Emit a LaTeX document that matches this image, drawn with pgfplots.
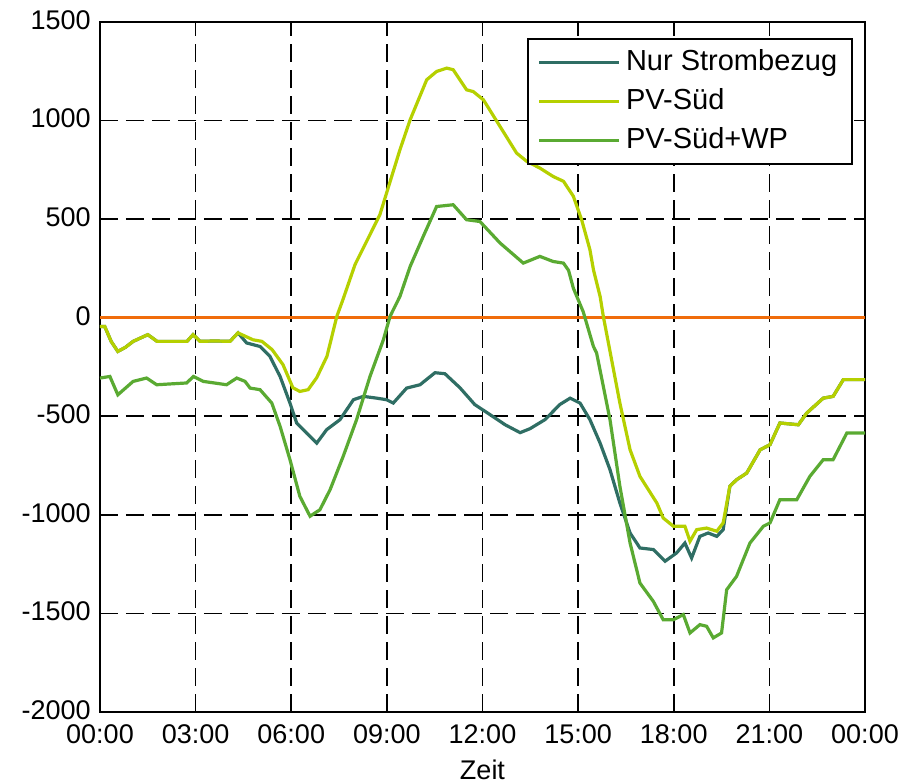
\documentclass[border=0pt]{standalone}
\usepackage{pgfplots}
\pgfplotsset{compat=1.18}
\usepackage{fontspec}
\setmainfont{Liberation Sans}
\definecolor{cteal}{RGB}{47,110,100}
\definecolor{cyell}{RGB}{181,208,0}
\definecolor{cgreen}{RGB}{90,170,50}
\definecolor{corange}{RGB}{240,108,10}
\begin{document}
\fontsize{13.5bp}{16bp}\selectfont
\begin{tikzpicture}
\useasboundingbox (-50bp,-35.5bp) rectangle (406bp,356bp);
\begin{axis}[
  scale only axis, width=382.5bp, height=345bp,
  xmin=0, xmax=24, ymin=-2000, ymax=1500,
  xtick={0,3,...,24},
  xticklabels={00:00,03:00,06:00,09:00,12:00,15:00,18:00,21:00,00:00},
  xticklabel style={yshift=-1.5bp},
  yticklabel style={yshift=1bp},
  ytick={-2000,-1500,...,1500},
  /pgf/number format/assume math mode=true,
  /pgf/number format/1000 sep={},
  grid=major,
  major grid style={black, line width=0.8bp, dash pattern=on 9bp off 4bp},
  axis line style={black, line width=1bp},
  major tick length=5bp,
  tick style={black, line width=0.8bp},
  xlabel={Zeit},
  xlabel style={yshift=1bp},
  legend style={at={(1,1)}, anchor=north east, xshift=-6bp, yshift=-8bp,
    draw=black, line width=0.8bp, inner xsep=5bp, inner ysep=3.5bp, row sep=3bp,
    font=\fontsize{14.5bp}{17bp}\selectfont,
    nodes={inner xsep=2.5bp}},
  legend cell align=left,
  legend image code/.code={\draw[#1, line width=1.6bp] (0bp,0bp) -- (40bp,0bp);},
]
\addplot[corange, line width=1.6bp, forget plot] coordinates {(0,0) (24,0)};
\addplot[cteal, line width=1.6bp] coordinates {
(0,-45) (0.15,-45) (0.35,-120) (0.56,-171) (0.8,-150) (1.04,-120) (1.5,-86) (1.79,-120) (2.2,-120) (2.73,-120) (2.92,-86) (3.14,-120) (3.6,-118) (4.08,-120) (4.33,-77)
(4.6,-128) (5.02,-146) (5.33,-196) (5.65,-298) (5.96,-433) (6.17,-534) (6.48,-585) (6.8,-636) (7.11,-568) (7.53,-517) (7.95,-416) (8.26,-399) (8.68,-408) (8.99,-416) (9.2,-433) (9.62,-357) (10.04,-340) (10.51,-279) (10.82,-284) (11.29,-355) (11.76,-441) (12.24,-492) (12.71,-543) (13.18,-583) (13.49,-563) (13.96,-517) (14.43,-440) (14.75,-408) (15.06,-433) (15.37,-517) (15.69,-636) (16.0,-771) (16.31,-940) (16.63,-1092) (16.94,-1168) (17.36,-1176) (17.73,-1235) (18.09,-1193) (18.35,-1143) (18.56,-1219) (18.82,-1109) (19.08,-1092) (19.35,-1109) (19.55,-1075)
(19.76,-855) (19.97,-822) (20.29,-788) (20.71,-670) (21.02,-644) (21.33,-534) (21.91,-543) (22.17,-484) (22.69,-408) (23.0,-399) (23.32,-314) (24,-314)};
\addlegendentry{Nur Strombezug}
\addplot[cyell, line width=1.6bp] coordinates {
(0,-45) (0.15,-45) (0.35,-120) (0.56,-171) (0.8,-150) (1.04,-120) (1.5,-86) (1.79,-120) (2.2,-120) (2.73,-120) (2.92,-86) (3.14,-120) (3.6,-118) (4.08,-120) (4.33,-77) (4.8,-112) (5.08,-120) (5.4,-162) (5.74,-238) (6.05,-355) (6.27,-374) (6.53,-365) (6.8,-304) (7.12,-196) (7.43,7) (7.62,91) (8.0,269) (8.78,522) (9.41,852) (9.73,1004) (10.25,1207) (10.56,1249) (10.88,1266) (11.08,1258) (11.5,1156) (11.71,1147) (12.03,1105) (12.55,970) (13.07,835) (13.39,793) (13.8,759) (14.22,716) (14.54,692) (14.85,616) (15.11,497) (15.37,345) (15.48,244) (15.69,108) (15.79,7) (15.95,-128) (16.31,-433) (16.63,-670) (16.94,-805) (17.47,-940) (17.67,-1016) (17.99,-1058) (18.35,-1058) (18.51,-1134) (18.72,-1075) (19.03,-1067) (19.35,-1083) (19.55,-1041) (19.76,-855) (19.97,-822) (20.29,-788) (20.71,-670) (21.02,-644) (21.33,-534) (21.91,-543) (22.17,-484) (22.69,-408) (23.0,-399) (23.32,-314) (24,-314)};
\addlegendentry{PV-Süd}
\addplot[cgreen, line width=1.6bp] coordinates {
(0,-306) (0.31,-298) (0.56,-391) (1.04,-323) (1.46,-306) (1.78,-340) (2.72,-331) (2.93,-298) (3.24,-323) (3.97,-340) (4.29,-306) (4.55,-323) (4.71,-357) (5.02,-365) (5.39,-433) (5.65,-551) (5.96,-720) (6.27,-906) (6.59,-1007) (6.9,-974) (7.22,-872) (7.63,-703) (8.05,-517) (8.47,-298) (8.89,-112) (9.1,7) (9.41,108) (9.73,260) (10.14,412) (10.56,564) (11.08,573) (11.5,497) (11.92,488) (12.55,379) (13.28,277) (13.8,311) (14.22,285) (14.54,277) (14.7,240) (14.85,150) (15.16,30) (15.48,-146) (15.58,-179) (16.0,-517) (16.31,-855) (16.63,-1143) (16.94,-1346) (17.36,-1439) (17.67,-1532) (17.99,-1532) (18.3,-1506) (18.51,-1599) (18.82,-1557) (19.03,-1565) (19.24,-1624) (19.5,-1599) (19.66,-1380) (19.97,-1312) (20.39,-1143) (20.81,-1058) (21.02,-1041) (21.33,-923) (21.86,-923) (22.27,-805) (22.69,-720) (23.0,-720) (23.43,-585) (24,-585)};
\addlegendentry{PV-Süd+WP}
\end{axis}
\end{tikzpicture}
\end{document}
